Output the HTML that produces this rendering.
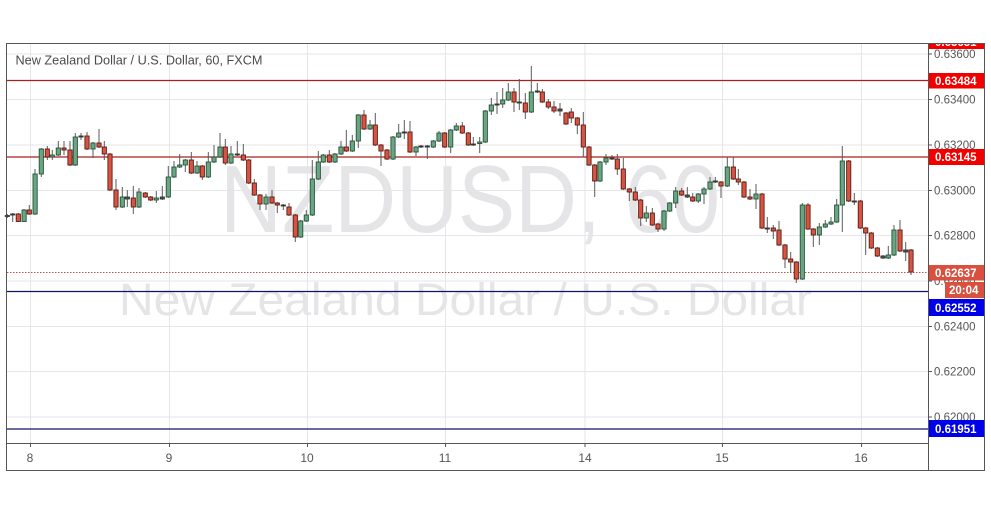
<!DOCTYPE html>
<html><head><meta charset="utf-8"><style>
html,body{margin:0;padding:0;background:#fff;}
svg{display:block;font-family:"Liberation Sans",sans-serif;}
</style></head><body>
<svg width="991" height="507" viewBox="0 0 991 507" xmlns="http://www.w3.org/2000/svg">
<defs><clipPath id="plot"><rect x="7" y="44" width="921" height="399"/></clipPath>
<clipPath id="axis"><rect x="929" y="44" width="55" height="399"/></clipPath></defs>
<rect x="0" y="0" width="991" height="507" fill="#fff"/>
<!-- grid -->
<g stroke="#e6e6e8" stroke-width="1">
<line x1="7" y1="54" x2="928" y2="54"/><line x1="7" y1="99.5" x2="928" y2="99.5"/><line x1="7" y1="145" x2="928" y2="145"/><line x1="7" y1="190.5" x2="928" y2="190.5"/><line x1="7" y1="235.5" x2="928" y2="235.5"/><line x1="7" y1="281" x2="928" y2="281"/><line x1="7" y1="326.5" x2="928" y2="326.5"/><line x1="7" y1="371.5" x2="928" y2="371.5"/><line x1="7" y1="417" x2="928" y2="417"/>
<line x1="30.5" y1="44" x2="30.5" y2="443"/><line x1="169.5" y1="44" x2="169.5" y2="443"/><line x1="307.5" y1="44" x2="307.5" y2="443"/><line x1="445.5" y1="44" x2="445.5" y2="443"/><line x1="585" y1="44" x2="585" y2="443"/><line x1="722.5" y1="44" x2="722.5" y2="443"/><line x1="861.5" y1="44" x2="861.5" y2="443"/>
</g>
<!-- watermark -->
<text x="220" y="232" font-size="96" fill="#e5e5e7" textLength="500" lengthAdjust="spacingAndGlyphs">NZDUSD, 60</text>
<text x="119" y="315" font-size="45" fill="#e5e5e7" textLength="693" lengthAdjust="spacingAndGlyphs">New Zealand Dollar / U.S. Dollar</text>
<!-- title -->
<text x="15.5" y="64.5" font-size="13" fill="#4a4a4a" textLength="247" lengthAdjust="spacingAndGlyphs" style="font-weight:500">New Zealand Dollar / U.S. Dollar, 60, FXCM</text>
<!-- horizontal levels -->
<g clip-path="url(#plot)">
<line x1="7" y1="80.5" x2="928" y2="80.5" stroke="#a8201a" stroke-width="1.2"/>
<line x1="7" y1="157" x2="928" y2="157" stroke="#a8201a" stroke-width="1.2"/>
<line x1="7" y1="291.5" x2="928" y2="291.5" stroke="#10106e" stroke-width="1.3"/>
<line x1="7" y1="429" x2="928" y2="429" stroke="#10106e" stroke-width="1.3"/>
<line x1="7" y1="272.5" x2="928" y2="272.5" stroke="#c0504d" stroke-width="1" stroke-dasharray="1.5,1.5"/>
</g>
<!-- candles -->
<g id="wicks" stroke="#5a5a5a" stroke-width="1">
<line x1="7.3" y1="214" x2="7.3" y2="218"/><line x1="12.7" y1="213" x2="12.7" y2="222"/><line x1="18.3" y1="213" x2="18.3" y2="222"/><line x1="24" y1="209" x2="24" y2="222"/><line x1="29.3" y1="205" x2="29.3" y2="215"/><line x1="35" y1="169" x2="35" y2="215"/><line x1="41.3" y1="148" x2="41.3" y2="177"/><line x1="47.3" y1="146" x2="47.3" y2="160"/><line x1="52.3" y1="150" x2="52.3" y2="160"/><line x1="58.3" y1="141" x2="58.3" y2="156"/><line x1="64" y1="141" x2="64" y2="155"/><line x1="70" y1="141" x2="70" y2="166"/><line x1="75.3" y1="133" x2="75.3" y2="166"/><line x1="81" y1="133" x2="81" y2="140"/><line x1="87" y1="132" x2="87" y2="150"/><line x1="93" y1="142" x2="93" y2="158"/><line x1="99" y1="129" x2="99" y2="148"/><line x1="104.3" y1="141" x2="104.3" y2="160"/><line x1="110" y1="153" x2="110" y2="191"/><line x1="116" y1="179" x2="116" y2="210"/><line x1="122.3" y1="187" x2="122.3" y2="208"/><line x1="127.3" y1="190" x2="127.3" y2="207"/><line x1="133.3" y1="186" x2="133.3" y2="214"/><line x1="139" y1="188" x2="139" y2="208"/><line x1="145.3" y1="192" x2="145.3" y2="198"/><line x1="150.7" y1="196" x2="150.7" y2="201"/><line x1="156.3" y1="191" x2="156.3" y2="203"/>
<line x1="162.3" y1="186" x2="162.3" y2="200"/><line x1="168.3" y1="166" x2="168.3" y2="198"/><line x1="174" y1="161" x2="174" y2="178"/><line x1="179.7" y1="154" x2="179.7" y2="168"/><line x1="185.3" y1="159" x2="185.3" y2="172"/><line x1="191.3" y1="152" x2="191.3" y2="174"/><line x1="197" y1="161" x2="197" y2="174"/><line x1="202.3" y1="165" x2="202.3" y2="180"/><line x1="208.3" y1="152" x2="208.3" y2="178"/><line x1="214" y1="145" x2="214" y2="163"/><line x1="220" y1="133" x2="220" y2="158"/><line x1="225.3" y1="139" x2="225.3" y2="165"/><line x1="231" y1="146" x2="231" y2="164"/><line x1="237.3" y1="141" x2="237.3" y2="156"/><line x1="243.3" y1="144" x2="243.3" y2="161"/><line x1="248.7" y1="159" x2="248.7" y2="184"/><line x1="254.3" y1="179" x2="254.3" y2="196"/><line x1="260" y1="194" x2="260" y2="210"/><line x1="266" y1="194" x2="266" y2="210"/><line x1="272" y1="190" x2="272" y2="204"/><line x1="277.3" y1="202" x2="277.3" y2="213"/><line x1="283.3" y1="204" x2="283.3" y2="210"/><line x1="289" y1="203" x2="289" y2="216"/><line x1="295.3" y1="214" x2="295.3" y2="242"/><line x1="300.7" y1="220" x2="300.7" y2="238"/><line x1="306.3" y1="210" x2="306.3" y2="222"/>
<line x1="312.3" y1="160" x2="312.3" y2="216"/><line x1="318.3" y1="151" x2="318.3" y2="180"/><line x1="323.3" y1="154" x2="323.3" y2="163"/><line x1="329.3" y1="150" x2="329.3" y2="163"/><line x1="335" y1="153" x2="335" y2="163"/><line x1="341" y1="141" x2="341" y2="155"/><line x1="346.3" y1="130" x2="346.3" y2="152"/><line x1="352.3" y1="135" x2="352.3" y2="152"/><line x1="358.3" y1="114" x2="358.3" y2="148"/><line x1="364" y1="110" x2="364" y2="130"/><line x1="370" y1="120" x2="370" y2="130"/><line x1="375.3" y1="113" x2="375.3" y2="146"/><line x1="381" y1="144" x2="381" y2="166"/><line x1="387" y1="149" x2="387" y2="160"/><line x1="393" y1="136" x2="393" y2="160"/><line x1="398.7" y1="124" x2="398.7" y2="138"/><line x1="404.3" y1="120" x2="404.3" y2="139"/><line x1="410" y1="121" x2="410" y2="153"/><line x1="416" y1="146" x2="416" y2="156"/><line x1="421" y1="145" x2="421" y2="148"/><line x1="427.3" y1="145" x2="427.3" y2="159"/><line x1="433.3" y1="140" x2="433.3" y2="148"/><line x1="439" y1="131" x2="439" y2="142"/><line x1="444.7" y1="132" x2="444.7" y2="148"/><line x1="450.7" y1="129" x2="450.7" y2="153"/><line x1="456.3" y1="123" x2="456.3" y2="131"/><line x1="462.3" y1="122" x2="462.3" y2="134"/><line x1="468.3" y1="132" x2="468.3" y2="146"/><line x1="473.3" y1="137" x2="473.3" y2="146"/><line x1="479.7" y1="137" x2="479.7" y2="153"/><line x1="485.3" y1="110" x2="485.3" y2="143"/><line x1="491.3" y1="98" x2="491.3" y2="115"/><line x1="497" y1="92" x2="497" y2="114"/>
<line x1="502.7" y1="88" x2="502.7" y2="108"/><line x1="508.3" y1="83" x2="508.3" y2="101"/><line x1="514" y1="88" x2="514" y2="112"/><line x1="519.3" y1="79" x2="519.3" y2="110"/><line x1="525.3" y1="93" x2="525.3" y2="119"/><line x1="531.3" y1="66" x2="531.3" y2="113"/><line x1="537.3" y1="83" x2="537.3" y2="93"/><line x1="542.3" y1="89" x2="542.3" y2="103"/><line x1="548.3" y1="99" x2="548.3" y2="109"/><line x1="554" y1="101" x2="554" y2="113"/><line x1="560" y1="103" x2="560" y2="116"/><line x1="566" y1="112" x2="566" y2="125"/><line x1="571.3" y1="108" x2="571.3" y2="123"/><line x1="577.3" y1="117" x2="577.3" y2="134"/><line x1="583.3" y1="112" x2="583.3" y2="157"/><line x1="589" y1="146" x2="589" y2="166"/><line x1="594.7" y1="164" x2="594.7" y2="197"/><line x1="600" y1="161" x2="600" y2="182"/><line x1="606" y1="154" x2="606" y2="165"/><line x1="612" y1="155" x2="612" y2="160"/><line x1="617.3" y1="154" x2="617.3" y2="175"/><line x1="623.3" y1="158" x2="623.3" y2="190"/><line x1="629.3" y1="188" x2="629.3" y2="201"/><line x1="635.3" y1="187" x2="635.3" y2="201"/><line x1="640.7" y1="199" x2="640.7" y2="226"/><line x1="646.3" y1="206" x2="646.3" y2="222"/><line x1="652.3" y1="208" x2="652.3" y2="226"/><line x1="658" y1="223" x2="658" y2="232"/><line x1="664" y1="210" x2="664" y2="231"/><line x1="669.7" y1="202" x2="669.7" y2="212"/><line x1="675.7" y1="187" x2="675.7" y2="208"/><line x1="681.7" y1="188" x2="681.7" y2="196"/><line x1="687.3" y1="187" x2="687.3" y2="198"/>
<line x1="692.7" y1="193" x2="692.7" y2="202"/><line x1="698.3" y1="193" x2="698.3" y2="203"/><line x1="704" y1="187" x2="704" y2="204"/><line x1="710" y1="177" x2="710" y2="190"/><line x1="715.3" y1="177" x2="715.3" y2="183"/><line x1="721" y1="181" x2="721" y2="198"/><line x1="727.3" y1="157" x2="727.3" y2="187"/><line x1="733.3" y1="157" x2="733.3" y2="180"/><line x1="738.3" y1="169" x2="738.3" y2="185"/><line x1="744" y1="181" x2="744" y2="198"/><line x1="750" y1="189" x2="750" y2="200"/><line x1="756" y1="184" x2="756" y2="209"/><line x1="762" y1="193" x2="762" y2="229"/><line x1="767.3" y1="217" x2="767.3" y2="233"/><line x1="773.3" y1="225" x2="773.3" y2="239"/><line x1="779" y1="221" x2="779" y2="246"/><line x1="785" y1="244" x2="785" y2="268"/><line x1="790.7" y1="252" x2="790.7" y2="273"/><line x1="796.3" y1="261" x2="796.3" y2="283"/><line x1="802.3" y1="203" x2="802.3" y2="280"/><line x1="808" y1="203" x2="808" y2="230"/><line x1="813.3" y1="228" x2="813.3" y2="247"/><line x1="819.3" y1="223" x2="819.3" y2="245"/><line x1="825.3" y1="220" x2="825.3" y2="228"/><line x1="831" y1="217" x2="831" y2="225"/><line x1="836.7" y1="199" x2="836.7" y2="223"/><line x1="842.3" y1="146" x2="842.3" y2="232"/><line x1="848.7" y1="160" x2="848.7" y2="202"/><line x1="854.3" y1="193" x2="854.3" y2="205"/><line x1="860.3" y1="200" x2="860.3" y2="229"/><line x1="865.7" y1="227" x2="865.7" y2="255"/><line x1="871.3" y1="232" x2="871.3" y2="249"/><line x1="877.3" y1="247" x2="877.3" y2="257"/><line x1="883" y1="255" x2="883" y2="259"/><line x1="888.3" y1="246" x2="888.3" y2="259"/><line x1="894" y1="225" x2="894" y2="256"/><line x1="900" y1="220" x2="900" y2="252"/><line x1="905.7" y1="242" x2="905.7" y2="261"/><line x1="911" y1="249" x2="911" y2="275"/>
</g>
<g stroke-width="0.9">
<g fill="#6ba583" stroke="#225437">
<rect x="22" y="210" width="4.2" height="11.5"/><rect x="33" y="174" width="4.2" height="40"/><rect x="39.2" y="149" width="4.2" height="25"/><rect x="50.2" y="155" width="4.2" height="2"/><rect x="56.2" y="148" width="4.2" height="7"/><rect x="73.2" y="137" width="4.2" height="28"/><rect x="90.9" y="143" width="4.2" height="6"/><rect x="120.2" y="197" width="4.2" height="10"/><rect x="136.9" y="192" width="4.2" height="15"/><rect x="154.2" y="198" width="4.2" height="2"/>
<rect x="166.2" y="177" width="4.2" height="20"/><rect x="171.9" y="167" width="4.2" height="10"/><rect x="177.6" y="165" width="4.2" height="2"/><rect x="183.2" y="160" width="4.2" height="5"/><rect x="194.9" y="166" width="4.2" height="7"/><rect x="206.2" y="162" width="4.2" height="15"/><rect x="211.9" y="157" width="4.2" height="5"/><rect x="217.9" y="147" width="4.2" height="10"/><rect x="228.9" y="154" width="4.2" height="9"/><rect x="263.9" y="197" width="4.2" height="7"/><rect x="298.6" y="221" width="4.2" height="16"/><rect x="304.2" y="215" width="4.2" height="6"/>
<rect x="310.2" y="179" width="4.2" height="36"/><rect x="316.2" y="162" width="4.2" height="17"/><rect x="321.2" y="155" width="4.2" height="7"/><rect x="332.9" y="154" width="4.2" height="8"/><rect x="338.9" y="147" width="4.2" height="7"/><rect x="350.2" y="141" width="4.2" height="10"/><rect x="356.2" y="115" width="4.2" height="26"/><rect x="367.9" y="125" width="4.2" height="4"/><rect x="390.9" y="137" width="4.2" height="22"/><rect x="396.6" y="133" width="4.2" height="4"/><rect x="413.9" y="147" width="4.2" height="5"/><rect x="431.2" y="141" width="4.2" height="6"/><rect x="436.9" y="133" width="4.2" height="8"/><rect x="448.6" y="130" width="4.2" height="17"/><rect x="454.2" y="126" width="4.2" height="4"/><rect x="477.6" y="142" width="4.2" height="1.5"/><rect x="483.2" y="111" width="4.2" height="31"/><rect x="489.2" y="105" width="4.2" height="6"/>
<rect x="500.6" y="100" width="4.2" height="4"/><rect x="506.2" y="92" width="4.2" height="8"/><rect x="529.2" y="92" width="4.2" height="20"/><rect x="597.9" y="162" width="4.2" height="19"/><rect x="603.9" y="158" width="4.2" height="4"/><rect x="644.2" y="213" width="4.2" height="5"/><rect x="661.9" y="211" width="4.2" height="18"/><rect x="667.6" y="203" width="4.2" height="8"/><rect x="673.6" y="191" width="4.2" height="12"/>
<rect x="696.2" y="194" width="4.2" height="7"/><rect x="701.9" y="189" width="4.2" height="5"/><rect x="707.9" y="182" width="4.2" height="7"/><rect x="725.2" y="167" width="4.2" height="19"/><rect x="753.9" y="194" width="4.2" height="5"/><rect x="800.2" y="205" width="4.2" height="74"/><rect x="817.2" y="227" width="4.2" height="8"/><rect x="823.2" y="224" width="4.2" height="3"/><rect x="828.9" y="222" width="4.2" height="2"/><rect x="834.6" y="205" width="4.2" height="17"/><rect x="840.2" y="161" width="4.2" height="44"/><rect x="886.2" y="255" width="4.2" height="3"/><rect x="891.9" y="230" width="4.2" height="25"/>
</g>
<g fill="#d75442" stroke="#5b1a13">
<rect x="16.2" y="214" width="4.2" height="7.5"/><rect x="27.2" y="210" width="4.2" height="4"/><rect x="45.2" y="149" width="4.2" height="8"/><rect x="61.9" y="148" width="4.2" height="2"/><rect x="67.9" y="150" width="4.2" height="15"/><rect x="84.9" y="136" width="4.2" height="13"/><rect x="96.9" y="143" width="4.2" height="4"/><rect x="102.2" y="147" width="4.2" height="7"/><rect x="107.9" y="154" width="4.2" height="36"/><rect x="113.9" y="190" width="4.2" height="17"/><rect x="131.2" y="198" width="4.2" height="9"/><rect x="143.2" y="193" width="4.2" height="4"/><rect x="148.6" y="197" width="4.2" height="3"/>
<rect x="189.2" y="160" width="4.2" height="13"/><rect x="200.2" y="166" width="4.2" height="11"/><rect x="223.2" y="147" width="4.2" height="16"/><rect x="241.2" y="155" width="4.2" height="5"/><rect x="246.6" y="160" width="4.2" height="23"/><rect x="252.2" y="183" width="4.2" height="12"/><rect x="257.9" y="195" width="4.2" height="9"/><rect x="269.9" y="197" width="4.2" height="6"/><rect x="275.2" y="203" width="4.2" height="2"/><rect x="286.9" y="207" width="4.2" height="8"/><rect x="293.2" y="215" width="4.2" height="22"/>
<rect x="327.2" y="155" width="4.2" height="7"/><rect x="344.2" y="147" width="4.2" height="4"/><rect x="361.9" y="115" width="4.2" height="14"/><rect x="373.2" y="125" width="4.2" height="20"/><rect x="378.9" y="145" width="4.2" height="6"/><rect x="384.9" y="150" width="4.2" height="9"/><rect x="407.9" y="132" width="4.2" height="20"/><rect x="442.6" y="133" width="4.2" height="14"/><rect x="460.2" y="126" width="4.2" height="7"/><rect x="466.2" y="133" width="4.2" height="12"/>
<rect x="511.9" y="92" width="4.2" height="10"/><rect x="523.2" y="103" width="4.2" height="9"/><rect x="540.2" y="92" width="4.2" height="10"/><rect x="546.2" y="102" width="4.2" height="5"/><rect x="551.9" y="107" width="4.2" height="4"/><rect x="563.9" y="113" width="4.2" height="11"/><rect x="569.2" y="112" width="4.2" height="6"/><rect x="575.2" y="118" width="4.2" height="7"/><rect x="581.2" y="125" width="4.2" height="22"/><rect x="586.9" y="147" width="4.2" height="18"/><rect x="592.6" y="165" width="4.2" height="16"/><rect x="615.2" y="159" width="4.2" height="10"/><rect x="621.2" y="169" width="4.2" height="20"/><rect x="627.2" y="189" width="4.2" height="3"/><rect x="633.2" y="192" width="4.2" height="8"/><rect x="638.6" y="200" width="4.2" height="18"/><rect x="650.2" y="213" width="4.2" height="12"/><rect x="655.9" y="224" width="4.2" height="5"/><rect x="679.6" y="191" width="4.2" height="4"/>
<rect x="690.6" y="197" width="4.2" height="4"/><rect x="718.9" y="182" width="4.2" height="4"/><rect x="731.2" y="167" width="4.2" height="12"/><rect x="736.2" y="179" width="4.2" height="3"/><rect x="741.9" y="182" width="4.2" height="15"/><rect x="747.9" y="197" width="4.2" height="2"/><rect x="759.9" y="194" width="4.2" height="34"/><rect x="771.2" y="228" width="4.2" height="3"/><rect x="776.9" y="230" width="4.2" height="15"/><rect x="782.9" y="245" width="4.2" height="14"/><rect x="788.6" y="259" width="4.2" height="3"/><rect x="794.2" y="262" width="4.2" height="17"/><rect x="805.9" y="205" width="4.2" height="24"/><rect x="811.2" y="229" width="4.2" height="6"/><rect x="846.6" y="161" width="4.2" height="40"/><rect x="858.2" y="201" width="4.2" height="27"/><rect x="863.6" y="228" width="4.2" height="5"/><rect x="869.2" y="233" width="4.2" height="15"/><rect x="875.2" y="248" width="4.2" height="8"/><rect x="897.9" y="230" width="4.2" height="21"/><rect x="908.9" y="250" width="4.2" height="22"/>
</g>
<g fill="#555" stroke="#333">
<rect x="5.2" y="215.5" width="4.2" height="1"/><rect x="10.6" y="214" width="4.2" height="1"/><rect x="78.9" y="136" width="4.2" height="1"/><rect x="125.2" y="197" width="4.2" height="2"/><rect x="160.2" y="197" width="4.2" height="2"/><rect x="235.2" y="154" width="4.2" height="1"/><rect x="281.2" y="205" width="4.2" height="1"/><rect x="402.2" y="132" width="4.2" height="1"/><rect x="418.9" y="146" width="4.2" height="1"/><rect x="425.2" y="146" width="4.2" height="1"/><rect x="471.2" y="144" width="4.2" height="1"/><rect x="494.9" y="104" width="4.2" height="1"/><rect x="517.2" y="102" width="4.2" height="1"/><rect x="535.2" y="91" width="4.2" height="1"/><rect x="557.9" y="109" width="4.2" height="2"/><rect x="609.9" y="158" width="4.2" height="1"/><rect x="685.2" y="195" width="4.2" height="2"/><rect x="713.2" y="181" width="4.2" height="1"/><rect x="765.2" y="228" width="4.2" height="1"/><rect x="852.2" y="201" width="4.2" height="1"/><rect x="880.9" y="256" width="4.2" height="2"/><rect x="903.6" y="250" width="4.2" height="2"/>
</g>
</g>
<!-- frame -->
<g stroke="#555" stroke-width="1" fill="none">
<rect x="6.5" y="43.5" width="978" height="427"/>
<line x1="928.5" y1="43.5" x2="928.5" y2="470.5"/>
<line x1="6.5" y1="443.5" x2="928.5" y2="443.5"/>
</g>
<!-- time axis -->
<g stroke="#555" stroke-width="1">
<line x1="30.5" y1="443.5" x2="30.5" y2="447"/><line x1="169.5" y1="443.5" x2="169.5" y2="447"/><line x1="307.5" y1="443.5" x2="307.5" y2="447"/><line x1="445.5" y1="443.5" x2="445.5" y2="447"/><line x1="585" y1="443.5" x2="585" y2="447"/><line x1="722.5" y1="443.5" x2="722.5" y2="447"/><line x1="861.5" y1="443.5" x2="861.5" y2="447"/>
</g>
<g font-size="12" fill="#555" text-anchor="middle">
<text x="30" y="462">8</text><text x="169" y="462">9</text><text x="307" y="462">10</text><text x="445" y="462">11</text><text x="585" y="462">14</text><text x="722" y="462">15</text><text x="861" y="462">16</text>
</g>
<!-- price axis -->
<g stroke="#555" stroke-width="1">
<line x1="928.5" y1="54" x2="932" y2="54"/><line x1="928.5" y1="99.5" x2="932" y2="99.5"/><line x1="928.5" y1="145" x2="932" y2="145"/><line x1="928.5" y1="190.5" x2="932" y2="190.5"/><line x1="928.5" y1="235.5" x2="932" y2="235.5"/><line x1="928.5" y1="281" x2="932" y2="281"/><line x1="928.5" y1="326.5" x2="932" y2="326.5"/><line x1="928.5" y1="371.5" x2="932" y2="371.5"/><line x1="928.5" y1="417" x2="932" y2="417"/>
</g>
<g font-size="11.5" fill="#555">
<text x="934" y="58">0.63600</text><text x="934" y="103.5">0.63400</text><text x="934" y="149">0.63200</text><text x="934" y="194.5">0.63000</text><text x="934" y="239.5">0.62800</text><text x="934" y="285">0.62600</text><text x="934" y="330.5">0.62400</text><text x="934" y="375.5">0.62200</text><text x="934" y="421">0.62000</text>
</g>
<!-- tags -->
<g clip-path="url(#axis)" font-size="11.5" font-weight="bold" fill="#fff">
<rect x="929" y="40" width="55" height="9" fill="#f20000"/><text x="935" y="46">0.63651</text>
</g>
<g font-size="11.5" font-weight="bold">
<rect x="929" y="73" width="55" height="15.5" fill="#f20000"/><text x="935" y="85" fill="#fff">0.63484</text>
<rect x="929" y="149" width="55" height="16" fill="#f20000"/><text x="935" y="161" fill="#fff">0.63145</text>
<rect x="929" y="265" width="55" height="15.5" fill="#d9503f"/><text x="935" y="277" fill="#fff">0.62637</text>
<rect x="945" y="282" width="39" height="16" fill="#d9503f"/><text x="949" y="294" fill="#fff">20:04</text>
<rect x="929" y="299" width="55" height="17" fill="#0000e8"/><text x="935" y="312" fill="#fff">0.62552</text>
<rect x="929" y="420" width="55" height="17" fill="#0000e8"/><text x="935" y="433" fill="#fff">0.61951</text>
</g>
</svg>
</body></html>
